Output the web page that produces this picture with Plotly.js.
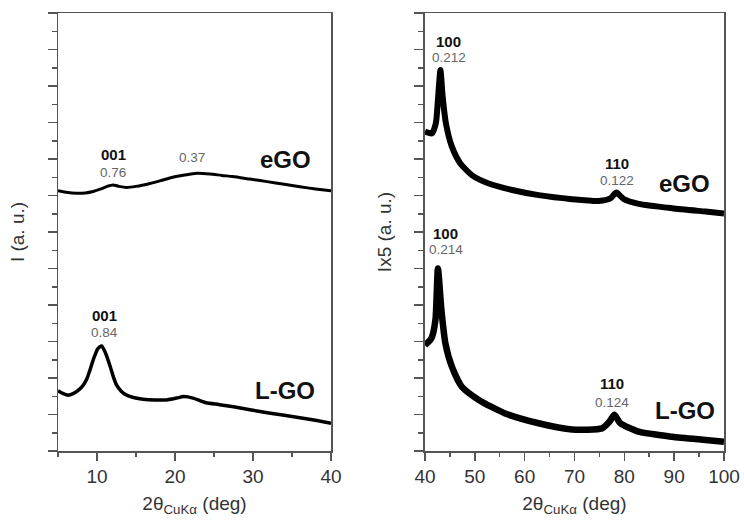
<!DOCTYPE html>
<html>
<head>
<meta charset="utf-8">
<script src="https://cdn.plot.ly/plotly-3.0.1.min.js"></script>
<style>html,body{margin:0;padding:0;background:#fff;}#chart{width:744px;height:520px;}</style>
</head>
<body>
<div id="chart"></div>
<script>
// Left panel (2θ 5–40): eGO and L-GO
const leftEgoX = [5, 6, 7.4, 8.5, 9.5, 10.5, 11.3, 12.05, 12.8, 13.8, 15, 16.8, 18.2, 19.7, 21.2, 22.8, 24.5, 26, 27.4, 29.6, 31.8, 34, 36, 38, 40];
const leftEgoY = [7.13, 7.09, 7.06, 7.07, 7.11, 7.18, 7.25, 7.29, 7.25, 7.22, 7.25, 7.33, 7.41, 7.50, 7.56, 7.61, 7.59, 7.55, 7.52, 7.45, 7.38, 7.31, 7.24, 7.18, 7.13];
const leftLgoX = [5, 5.6, 6.3, 7.0, 7.7, 8.25, 8.7, 9.1, 9.6, 10.1, 10.6, 11.1, 11.7, 12.1, 12.5, 13.1, 13.8, 14.8, 15.9, 17.4, 18.9, 20.2, 21.1, 22.3, 23.2, 24.0, 25.7, 27.5, 29.6, 31.8, 34, 36, 38, 40];
const leftLgoY = [1.65, 1.58, 1.53, 1.58, 1.68, 1.81, 1.98, 2.22, 2.55, 2.80, 2.88, 2.68, 2.31, 2.03, 1.81, 1.64, 1.53, 1.46, 1.42, 1.40, 1.40, 1.45, 1.49, 1.45, 1.38, 1.32, 1.27, 1.21, 1.13, 1.05, 0.98, 0.91, 0.84, 0.76];

// Right panel (2θ 40–100): eGO and L-GO (Ix5)
const rightEgoX = [40, 41.4, 42.2, 42.6, 43.1, 43.55, 44.2, 45.4, 47.1, 49.4, 52.8, 57.5, 62.8, 69.5, 74.9, 77.2, 78.4, 79.9, 82.9, 89.6, 96.3, 100];
const rightEgoY = [8.75, 8.70, 8.99, 9.62, 10.44, 9.71, 8.98, 8.34, 7.88, 7.56, 7.33, 7.15, 7.01, 6.90, 6.85, 6.92, 7.08, 6.90, 6.77, 6.65, 6.56, 6.51];
const rightLgoX = [40, 41.3, 42.1, 42.6, 43.3, 44.1, 45.4, 47.4, 50.8, 56.1, 62.8, 69.5, 75.5, 77.0, 78.0, 79.2, 82.9, 89.6, 96.3, 100];
const rightLgoY = [2.90, 3.09, 3.59, 5.00, 3.86, 2.95, 2.31, 1.76, 1.40, 1.03, 0.76, 0.59, 0.62, 0.80, 0.99, 0.76, 0.53, 0.39, 0.30, 0.25];

const leftTicks = [10, 20, 30, 40];
const rightTicks = [40, 50, 60, 70, 80, 90, 100];

const FONT = 'Liberation Sans, Arial, sans-serif';
const line = (w) => ({color: '#000', width: w, shape: 'spline', smoothing: 0.6});

const traces = [
  {x: leftEgoX, y: leftEgoY, xaxis: 'x', yaxis: 'y', mode: 'lines', line: line(3), hoverinfo: 'skip'},
  {x: leftLgoX, y: leftLgoY, xaxis: 'x', yaxis: 'y', mode: 'lines', line: line(3.5), hoverinfo: 'skip'},
  {x: rightEgoX, y: rightEgoY, xaxis: 'x2', yaxis: 'y2', mode: 'lines', line: line(6), hoverinfo: 'skip'},
  {x: rightLgoX, y: rightLgoY, xaxis: 'x2', yaxis: 'y2', mode: 'lines', line: line(6.5), hoverinfo: 'skip'}
];

const xCommon = {
  showline: true, mirror: true, linecolor: '#555', linewidth: 1.5,
  ticks: 'outside', ticklen: 8, tickwidth: 1.5, tickcolor: '#555',
  showgrid: false, zeroline: false,
  tickfont: {family: FONT, size: 19, color: '#333'},
  minor: {dtick: 5, ticks: 'outside', ticklen: 4, tickwidth: 1.5, tickcolor: '#555', showgrid: false}
};
const yCommon = {
  range: [0, 12], dtick: 1, tick0: 0,
  showline: true, mirror: true, linecolor: '#555', linewidth: 1.5,
  ticks: 'outside', ticklen: 9, tickwidth: 1.5, tickcolor: '#555',
  showticklabels: false, showgrid: false, zeroline: false,
  minor: {dtick: 0.5, ticks: 'outside', ticklen: 5, tickwidth: 1.5, tickcolor: '#555', showgrid: false}
};
const xTitle = {text: '2θ<sub>CuKα</sub> (deg)', font: {family: FONT, size: 19, color: '#333'}, standoff: 10};

function ann(x, y, text, opts) {
  return Object.assign({x: x, y: y, text: text, showarrow: false, xanchor: 'center', yanchor: 'middle',
    font: {family: FONT, size: 13.5, color: '#666'}}, opts);
}
const bold = (size) => ({font: {family: FONT, size: size, color: '#111', weight: 'bold'}});

const annotations = [
  ann(12.05, 8.11, '<b>001</b>', Object.assign({xref: 'x', yref: 'y'}, bold(15))),
  ann(12.05, 7.64, '0.76', {xref: 'x', yref: 'y'}),
  ann(22.2, 8.03, '0.37', {xref: 'x', yref: 'y'}),
  ann(34.1, 8.0, '<b>eGO</b>', Object.assign({xref: 'x', yref: 'y'}, bold(24))),
  ann(10.9, 3.70, '<b>001</b>', Object.assign({xref: 'x', yref: 'y'}, bold(15))),
  ann(10.9, 3.26, '0.84', {xref: 'x', yref: 'y'}),
  ann(34.1, 1.67, '<b>L-GO</b>', Object.assign({xref: 'x', yref: 'y'}, bold(24))),
  ann(44.8, 11.23, '<b>100</b>', Object.assign({xref: 'x2', yref: 'y2'}, bold(15))),
  ann(44.8, 10.77, '0.212', {xref: 'x2', yref: 'y2'}),
  ann(78.5, 7.89, '<b>110</b>', Object.assign({xref: 'x2', yref: 'y2'}, bold(15))),
  ann(78.5, 7.42, '0.122', {xref: 'x2', yref: 'y2'}),
  ann(92.0, 7.34, '<b>eGO</b>', Object.assign({xref: 'x2', yref: 'y2'}, bold(24))),
  ann(44.2, 5.95, '<b>100</b>', Object.assign({xref: 'x2', yref: 'y2'}, bold(15))),
  ann(44.2, 5.51, '0.214', {xref: 'x2', yref: 'y2'}),
  ann(77.5, 1.84, '<b>110</b>', Object.assign({xref: 'x2', yref: 'y2'}, bold(15))),
  ann(77.5, 1.34, '0.124', {xref: 'x2', yref: 'y2'}),
  ann(92.2, 1.10, '<b>L-GO</b>', Object.assign({xref: 'x2', yref: 'y2'}, bold(24)))
];

const layout = {
  width: 744, height: 520,
  margin: {l: 58, r: 20, t: 13, b: 69},
  paper_bgcolor: '#fff', plot_bgcolor: '#fff',
  showlegend: false,
  xaxis: Object.assign({}, xCommon, {domain: [0, 0.41], range: [5, 40], tickvals: leftTicks, anchor: 'y', title: xTitle}),
  yaxis: Object.assign({}, yCommon, {domain: [0, 1], anchor: 'x',
    title: {text: 'I (a. u.)', font: {family: FONT, size: 19, color: '#333'}, standoff: 18}}),
  xaxis2: Object.assign({}, xCommon, {domain: [0.551, 1], range: [40, 100], tickvals: rightTicks, anchor: 'y2', title: xTitle}),
  yaxis2: Object.assign({}, yCommon, {domain: [0, 1], anchor: 'x2',
    title: {text: 'Ix5 (a. u.)', font: {family: FONT, size: 19, color: '#333'}, standoff: 18}}),
  annotations: annotations
};

Plotly.newPlot('chart', traces, layout, {displayModeBar: false, staticPlot: true});
</script>
</body>
</html>
